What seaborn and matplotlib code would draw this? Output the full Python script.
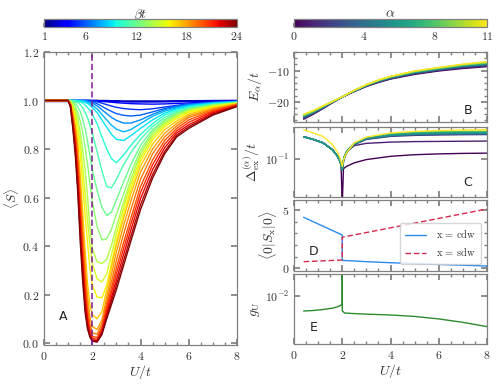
import matplotlib
matplotlib.use("Agg")
import matplotlib as mpl
import matplotlib.pyplot as plt
import numpy as np
import pandas as pd
import seaborn as sns
from matplotlib.ticker import MultipleLocator, LogLocator, NullFormatter, NullLocator, FixedLocator

# ---------------- data ----------------
u_s = [0.0, 1.0, 1.1, 1.2, 1.3, 1.4, 1.5, 1.6, 1.7, 1.8, 1.9, 2.0, 2.2, 2.4, 2.6,
       2.8, 3.0, 3.3, 3.6, 4.0, 4.5, 5.0, 5.5, 6.0, 7.0, 8.0]
beta_t = [1, 2, 3, 4, 5, 6, 7, 8, 9, 10, 11, 12, 13, 14, 15, 16, 17, 18, 19, 20, 21, 22, 23, 24]
s_beta = [
    [1.0, 1.0, 1.0, 1.0, 1.0, 1.0, 1.0, 1.0, 1.0, 1.0, 1.0, 1.0, 1.0, 1.0, 1.0, 1.0, 1.0, 1.0, 1.0, 1.0, 1.0, 1.0, 1.0, 1.0, 1.0, 1.0],
    [1.0, 1.0, 1.0, 1.0, 1.0, 1.0, 1.0, 1.0, 1.0, 1.0, 1.0, 1.0, 1.0, 1.0, 1.0, 0.999, 0.999, 0.998, 0.998, 0.998, 0.998, 0.998, 0.999, 0.999, 1.0, 1.0],
    [1.0, 1.0, 1.0, 1.0, 1.0, 1.0, 1.0, 1.0, 1.0, 1.0, 1.0, 1.0, 1.0, 0.999, 0.998, 0.997, 0.996, 0.995, 0.994, 0.994, 0.994, 0.995, 0.996, 0.997, 0.999, 1.0],
    [1.0, 1.0, 1.0, 1.0, 1.0, 1.0, 1.0, 1.0, 1.0, 1.0, 1.0, 1.0, 0.999, 0.997, 0.995, 0.993, 0.991, 0.989, 0.987, 0.986, 0.985, 0.986, 0.988, 0.99, 0.994, 0.997],
    [1.0, 1.0, 1.0, 1.0, 1.0, 1.0, 1.0, 1.0, 1.0, 1.0, 1.0, 0.999, 0.995, 0.989, 0.983, 0.977, 0.972, 0.967, 0.964, 0.962, 0.966, 0.973, 0.98, 0.986, 0.993, 0.997],
    [1.0, 1.0, 1.0, 1.0, 1.0, 1.0, 1.0, 1.0, 1.0, 0.999, 0.997, 0.995, 0.987, 0.976, 0.965, 0.955, 0.946, 0.939, 0.936, 0.94, 0.953, 0.967, 0.977, 0.985, 0.992, 0.996],
    [1.0, 1.0, 1.0, 1.0, 1.0, 1.0, 1.0, 1.0, 0.999, 0.997, 0.994, 0.99, 0.978, 0.962, 0.946, 0.93, 0.918, 0.907, 0.907, 0.92, 0.943, 0.962, 0.974, 0.983, 0.991, 0.996],
    [1.0, 1.0, 1.0, 1.0, 1.0, 1.0, 1.0, 0.999, 0.997, 0.993, 0.988, 0.982, 0.965, 0.943, 0.92, 0.898, 0.882, 0.871, 0.88, 0.905, 0.935, 0.956, 0.97, 0.98, 0.99, 0.995],
    [1.0, 1.0, 1.0, 1.0, 1.0, 1.0, 0.999, 0.997, 0.993, 0.988, 0.981, 0.972, 0.95, 0.92, 0.89, 0.86, 0.84, 0.835, 0.855, 0.885, 0.92, 0.948, 0.965, 0.977, 0.989, 0.994],
    [1.0, 1.0, 1.0, 1.0, 1.0, 0.998, 0.995, 0.99, 0.982, 0.972, 0.96, 0.945, 0.905, 0.85, 0.8, 0.76, 0.743, 0.775, 0.815, 0.86, 0.905, 0.94, 0.96, 0.973, 0.986, 0.993],
    [1.0, 1.0, 1.0, 1.0, 0.997, 0.992, 0.983, 0.97, 0.952, 0.93, 0.9, 0.865, 0.79, 0.71, 0.645, 0.64, 0.675, 0.735, 0.785, 0.84, 0.893, 0.93, 0.953, 0.968, 0.984, 0.991],
    [1.0, 1.0, 1.0, 0.996, 0.988, 0.975, 0.955, 0.925, 0.885, 0.835, 0.775, 0.715, 0.63, 0.56, 0.526, 0.54, 0.59, 0.665, 0.735, 0.815, 0.88, 0.921, 0.948, 0.966, 0.983, 0.991],
    [1.0, 1.0, 0.998, 0.99, 0.975, 0.95, 0.915, 0.87, 0.81, 0.74, 0.66, 0.585, 0.48, 0.425, 0.43, 0.47, 0.53, 0.615, 0.7, 0.795, 0.87, 0.914, 0.943, 0.963, 0.981, 0.99],
    [1.0, 1.0, 0.996, 0.983, 0.96, 0.925, 0.87, 0.8, 0.72, 0.61, 0.48, 0.39, 0.335, 0.328, 0.345, 0.405, 0.48, 0.58, 0.675, 0.78, 0.86, 0.907, 0.938, 0.96, 0.979, 0.99],
    [1.0, 1.0, 0.994, 0.975, 0.945, 0.9, 0.83, 0.73, 0.62, 0.51, 0.41, 0.33, 0.265, 0.252, 0.285, 0.365, 0.45, 0.56, 0.655, 0.765, 0.85, 0.9, 0.932, 0.956, 0.977, 0.989],
    [1.0, 1.0, 0.992, 0.965, 0.93, 0.87, 0.78, 0.66, 0.53, 0.42, 0.31, 0.24, 0.19, 0.186, 0.24, 0.33, 0.42, 0.535, 0.635, 0.75, 0.838, 0.892, 0.925, 0.951, 0.974, 0.988],
    [1.0, 1.0, 0.99, 0.95, 0.9, 0.825, 0.695, 0.545, 0.39, 0.25, 0.16, 0.118, 0.1, 0.13, 0.22, 0.315, 0.405, 0.515, 0.615, 0.73, 0.82, 0.88, 0.915, 0.944, 0.97, 0.987],
    [1.0, 1.0, 0.987, 0.94, 0.885, 0.795, 0.65, 0.49, 0.335, 0.195, 0.11, 0.068, 0.056, 0.095, 0.19, 0.285, 0.375, 0.485, 0.585, 0.705, 0.8, 0.865, 0.905, 0.937, 0.966, 0.985],
    [1.0, 1.0, 0.985, 0.93, 0.87, 0.765, 0.61, 0.445, 0.285, 0.155, 0.08, 0.042, 0.036, 0.08, 0.17, 0.255, 0.34, 0.45, 0.55, 0.675, 0.78, 0.85, 0.895, 0.93, 0.962, 0.984],
    [1.0, 1.0, 0.982, 0.92, 0.85, 0.735, 0.57, 0.4, 0.245, 0.125, 0.06, 0.028, 0.023, 0.065, 0.15, 0.23, 0.31, 0.415, 0.515, 0.645, 0.755, 0.835, 0.885, 0.92, 0.958, 0.982],
    [1.0, 1.0, 0.98, 0.91, 0.83, 0.705, 0.53, 0.36, 0.21, 0.105, 0.047, 0.02, 0.015, 0.055, 0.135, 0.21, 0.285, 0.39, 0.49, 0.62, 0.735, 0.82, 0.875, 0.91, 0.954, 0.98],
    [1.0, 1.0, 0.978, 0.9, 0.81, 0.675, 0.49, 0.325, 0.18, 0.088, 0.037, 0.014, 0.009, 0.046, 0.12, 0.19, 0.26, 0.365, 0.465, 0.595, 0.715, 0.805, 0.866, 0.9, 0.949, 0.978],
    [1.0, 1.0, 0.975, 0.89, 0.79, 0.645, 0.455, 0.29, 0.155, 0.072, 0.03, 0.011, 0.006, 0.04, 0.11, 0.175, 0.24, 0.34, 0.44, 0.57, 0.695, 0.79, 0.857, 0.892, 0.944, 0.977],
    [1.0, 1.0, 0.97, 0.88, 0.77, 0.62, 0.42, 0.26, 0.13, 0.06, 0.025, 0.008, 0.004, 0.035, 0.10, 0.16, 0.22, 0.32, 0.42, 0.55, 0.68, 0.78, 0.85, 0.885, 0.94, 0.975],
]
u_critical = 2.0

alpha_vals = [0, 1, 2, 3, 4, 5, 6, 7, 8, 9, 10, 11]
u_e = [0.4, 0.8, 1.2, 1.6, 2.0, 2.5, 3.0, 3.5, 4.0, 5.0, 6.0, 7.0, 8.0]
e_alpha = [
    [-25.6, -24.0, -22.2, -20.3, -18.5, -16.7, -15.1, -13.8, -12.7, -11.2, -10.1, -9.3, -8.7],
    [-25.4, -23.8, -22.1, -20.2, -18.5, -16.6, -15.0, -13.7, -12.6, -11.0, -9.9, -9.1, -8.5],
    [-25.2, -23.7, -22.0, -20.2, -18.5, -16.6, -14.9, -13.6, -12.5, -10.9, -9.8, -8.9, -8.3],
    [-25.0, -23.6, -21.9, -20.1, -18.5, -16.5, -14.9, -13.5, -12.4, -10.8, -9.7, -8.8, -8.1],
    [-24.9, -23.5, -21.8, -20.1, -18.5, -16.5, -14.8, -13.4, -12.3, -10.7, -9.6, -8.6, -8.0],
    [-24.8, -23.4, -21.7, -20.0, -18.4, -16.5, -14.8, -13.4, -12.2, -10.6, -9.5, -8.5, -7.9],
    [-24.6, -23.3, -21.7, -20.0, -18.4, -16.4, -14.7, -13.3, -12.1, -10.5, -9.4, -8.4, -7.7],
    [-24.5, -23.2, -21.6, -20.0, -18.4, -16.4, -14.7, -13.2, -12.1, -10.4, -9.3, -8.3, -7.6],
    [-24.4, -23.1, -21.5, -19.9, -18.4, -16.4, -14.6, -13.2, -12.0, -10.3, -9.2, -8.2, -7.5],
    [-24.3, -23.0, -21.4, -19.9, -18.4, -16.3, -14.6, -13.1, -11.9, -10.2, -9.1, -8.1, -7.4],
    [-24.1, -22.9, -21.4, -19.9, -18.4, -16.3, -14.5, -13.0, -11.9, -10.2, -9.0, -8.0, -7.2],
    [-24.0, -22.8, -21.3, -19.9, -18.4, -16.3, -14.5, -13.0, -11.8, -10.1, -9.0, -7.9, -7.1],
]

u_gap = [0.4, 0.8, 1.2, 1.6, 1.8, 1.9, 1.95, 2.0, 2.05, 2.1, 2.2, 2.5, 3.0, 4.0, 5.0, 6.0, 7.0, 8.0]
gap_alpha = [
    [0.208, 0.19, 0.17, 0.135, 0.11, 0.094, 0.083, 0.022, 0.072, 0.075, 0.079, 0.088, 0.098, 0.109, 0.115, 0.118, 0.12, 0.121],
    [0.208, 0.19, 0.17, 0.135, 0.11, 0.094, 0.083, 0.07, 0.095, 0.11, 0.13, 0.155, 0.167, 0.174, 0.177, 0.178, 0.179, 0.18],
    [0.208, 0.19, 0.17, 0.135, 0.11, 0.094, 0.083, 0.07, 0.09, 0.105, 0.125, 0.16, 0.19, 0.21, 0.217, 0.22, 0.222, 0.223],
    [0.208, 0.19, 0.17, 0.135, 0.11, 0.094, 0.083, 0.07, 0.092, 0.107, 0.127, 0.162, 0.193, 0.213, 0.221, 0.224, 0.226, 0.227],
    [0.208, 0.19, 0.17, 0.135, 0.11, 0.094, 0.083, 0.07, 0.093, 0.108, 0.128, 0.163, 0.195, 0.216, 0.224, 0.228, 0.23, 0.231],
    [0.208, 0.19, 0.17, 0.135, 0.11, 0.094, 0.083, 0.07, 0.094, 0.109, 0.129, 0.164, 0.196, 0.218, 0.227, 0.231, 0.233, 0.234],
    [0.208, 0.19, 0.17, 0.135, 0.11, 0.094, 0.083, 0.07, 0.095, 0.11, 0.13, 0.165, 0.197, 0.22, 0.23, 0.234, 0.236, 0.237],
    [0.208, 0.19, 0.17, 0.135, 0.11, 0.094, 0.083, 0.07, 0.095, 0.11, 0.13, 0.166, 0.198, 0.222, 0.232, 0.237, 0.239, 0.24],
    [0.208, 0.19, 0.17, 0.135, 0.11, 0.094, 0.083, 0.07, 0.096, 0.111, 0.131, 0.167, 0.2, 0.224, 0.235, 0.24, 0.243, 0.244],
    [0.208, 0.19, 0.17, 0.135, 0.11, 0.094, 0.083, 0.07, 0.096, 0.111, 0.131, 0.168, 0.2, 0.226, 0.237, 0.243, 0.246, 0.247],
    [0.208, 0.19, 0.17, 0.135, 0.11, 0.094, 0.083, 0.07, 0.097, 0.112, 0.132, 0.168, 0.201, 0.228, 0.24, 0.246, 0.249, 0.25],
    [0.26, 0.235, 0.21, 0.16, 0.125, 0.105, 0.092, 0.078, 0.095, 0.108, 0.125, 0.17, 0.205, 0.235, 0.248, 0.255, 0.259, 0.262],
]
# draw order for the gap panel (teal curve ends up on top on the left branch)
gap_order = [0, 1, 10, 9, 8, 7, 2, 3, 4, 5, 6, 11]

u_cdw = [0.4, 2.0, 2.0, 3.0, 4.0, 5.0, 6.0, 7.0, 8.0]
s_cdw = [4.37, 2.85, 0.68, 0.57, 0.48, 0.40, 0.33, 0.26, 0.20]
u_sdw = [0.4, 2.0, 2.0, 8.0]
s_sdw = [0.57, 0.71, 2.66, 5.08]

u_g = [0.4, 0.8, 1.2, 1.6, 1.8, 1.95, 2.0, 2.0, 2.0, 2.05, 2.1, 2.5, 3.0, 4.0, 5.0, 6.0, 7.0, 8.0]
g_u = [0.0061, 0.0062, 0.0064, 0.0067, 0.0070, 0.0074, 0.0076, 0.1, 0.0062, 0.0059, 0.0057,
       0.0056, 0.0055, 0.00535, 0.0051, 0.0047, 0.0042, 0.00365]

# ---------------- style ----------------
sns.set_theme(style="ticks")
SPINE = "#808080"
TXT = "#333333"
plt.rcParams.update({
    "font.family": "serif",
    "font.serif": ["cmr10"],
    "mathtext.fontset": "cm",
    "axes.formatter.use_mathtext": True,
    "axes.edgecolor": SPINE,
    "axes.linewidth": 0.9,
    "xtick.color": SPINE, "ytick.color": SPINE,
    "xtick.labelcolor": TXT, "ytick.labelcolor": TXT,
    "xtick.direction": "in", "ytick.direction": "in",
    "xtick.top": True, "ytick.right": True,
    "xtick.major.size": 4, "ytick.major.size": 4,
    "xtick.minor.size": 2, "ytick.minor.size": 2,
    "xtick.labelsize": 8.5, "ytick.labelsize": 8.5,
    "axes.labelsize": 10, "axes.labelcolor": TXT,
    "axes.facecolor": "white", "figure.facecolor": "white",
})

W, H = 499.0, 385.0
def rect(l, t, r, b):
    return [l / W, 1 - b / H, (r - l) / W, (b - t) / H]

fig = plt.figure(figsize=(4.99, 3.85), dpi=100)
axA = fig.add_axes(rect(44, 52, 237, 345))
axB = fig.add_axes(rect(294, 52, 487, 122))
axC = fig.add_axes(rect(294, 127, 487, 197))
axD = fig.add_axes(rect(294, 200, 487, 271))
axE = fig.add_axes(rect(294, 274, 487, 344))
caxL = fig.add_axes(rect(44, 19, 237, 27))
caxR = fig.add_axes(rect(294, 19, 487, 27))

JET = mpl.colormaps["jet"]
VIR = mpl.colormaps["viridis"]

# ---------------- panel A ----------------
df_s = pd.DataFrame([(b, u, v) for b, row in zip(beta_t, s_beta) for u, v in zip(u_s, row)],
                    columns=["beta", "U", "S"])
sns.lineplot(data=df_s, x="U", y="S", hue="beta", palette=JET, hue_norm=(1, 24),
             legend=False, estimator=None, sort=False, lw=1.0, ax=axA)
axA.axvline(u_critical, color="#7d1a8b", ls=(0, (4, 2)), lw=1.1)
axA.set_xlim(0, 8)
axA.set_ylim(-0.008, 1.2)
axA.xaxis.set_major_locator(MultipleLocator(2))
axA.xaxis.set_minor_locator(MultipleLocator(0.5))
axA.yaxis.set_major_locator(MultipleLocator(0.2))
axA.set_xlabel(r"$U/t$", labelpad=1)
axA.set_ylabel(r"$\langle S\rangle$", fontsize=9.5)
axA.yaxis.set_label_coords(-0.118, 0.5)
axA.text(0.79, 0.11, "A", family="DejaVu Sans", fontsize=9, color="#222222", ha="center", va="center")

# ---------------- panel B ----------------
df_e = pd.DataFrame([(a, u, v) for a, row in zip(alpha_vals, e_alpha) for u, v in zip(u_e, row)],
                    columns=["alpha", "U", "E"])
sns.lineplot(data=df_e, x="U", y="E", hue="alpha", palette=VIR, hue_norm=(0, 11),
             legend=False, estimator=None, sort=False, lw=1.0, ax=axB)
axB.set_ylim(-26.5, -4)
axB.yaxis.set_major_locator(FixedLocator([-20, -10]))
axB.yaxis.set_minor_locator(MultipleLocator(2))
axB.set_ylabel(r"$E_\alpha/t$", labelpad=2)
axB.text(0.90, 0.16, "B", transform=axB.transAxes, family="DejaVu Sans", fontsize=9,
         color="#222222", ha="center", va="center")

# ---------------- panel C ----------------
df_g = pd.DataFrame([(a, u, v) for a, row in zip(alpha_vals, gap_alpha) for u, v in zip(u_gap, row)],
                    columns=["alpha", "U", "gap"])
sns.lineplot(data=df_g, x="U", y="gap", hue="alpha", hue_order=gap_order,
             palette={a: VIR(a / 11) for a in alpha_vals},
             legend=False, estimator=None, sort=False, lw=1.0, ax=axC)
axC.set_yscale("log")
axC.set_ylim(0.0286, 0.286)
axC.yaxis.set_major_locator(LogLocator(base=10))
axC.yaxis.set_minor_locator(NullLocator())
axC.set_ylabel(r"$\Delta^{(\alpha)}_{\rm ex}/t$", labelpad=2)
axC.text(0.90, 0.20, "C", transform=axC.transAxes, family="DejaVu Sans", fontsize=9,
         color="#222222", ha="center", va="center")

# ---------------- panel D ----------------
sns.lineplot(x=u_cdw, y=s_cdw, color="#2b8cf0", lw=1.0, estimator=None, sort=False,
             ax=axD, label=r"$\rm x\,=\,cdw$")
sns.lineplot(x=u_sdw, y=s_sdw, color="#d6284b", lw=1.0, estimator=None, sort=False,
             ax=axD, label=r"$\rm x\,=\,sdw$")
axD.lines[-1].set_dashes((4, 2))
axD.set_ylim(-0.23, 5.85)
axD.yaxis.set_major_locator(FixedLocator([0, 5]))
axD.yaxis.set_minor_locator(MultipleLocator(1))
axD.set_ylabel(r"$\langle 0|S_{\rm x}|0\rangle$", labelpad=2)
leg = axD.legend(loc="center right", bbox_to_anchor=(0.995, 0.39), fontsize=7.5,
                 handlelength=2.0, handletextpad=0.9, frameon=True, borderpad=0.5,
                 labelspacing=0.6)
leg.get_frame().set_edgecolor("#cccccc")
for t in leg.get_texts():
    t.set_color(TXT)
axD.text(0.10, 0.27, "D", transform=axD.transAxes, family="DejaVu Sans", fontsize=9,
         color="#222222", ha="center", va="center")

# ---------------- panel E ----------------
sns.lineplot(x=u_g, y=g_u, color="#2e8b2e", lw=1.0, estimator=None, sort=False, ax=axE)
axE.set_yscale("log")
axE.set_ylim(0.00206, 0.0206)
axE.yaxis.set_major_locator(LogLocator(base=10))
axE.yaxis.set_minor_locator(NullLocator())
axE.set_ylabel(r"$g_{\rm U}$", labelpad=2)
axE.set_xlabel(r"$U/t$", labelpad=1)
axE.text(0.104, 0.24, "E", transform=axE.transAxes, family="DejaVu Sans", fontsize=9,
         color="#222222", ha="center", va="center")

for ax in (axB, axC, axD, axE):
    ax.set_xlim(0, 8)
    ax.xaxis.set_major_locator(MultipleLocator(2))
    ax.xaxis.set_minor_locator(MultipleLocator(0.5))
for ax in (axB, axC, axD):
    ax.tick_params(labelbottom=False)
    ax.set_xlabel("")

# ---------------- colorbars ----------------
def make_cbar(cax, cmap, vmin, vmax, ticks, label):
    sm = mpl.cm.ScalarMappable(norm=mpl.colors.Normalize(vmin, vmax), cmap=cmap)
    cb = fig.colorbar(sm, cax=cax, orientation="horizontal")
    cb.set_ticks(ticks)
    cb.outline.set_edgecolor(SPINE)
    cb.outline.set_linewidth(0.9)
    cax.tick_params(axis="x", direction="in", length=3, color=SPINE, labelsize=8.5,
                    labelcolor=TXT, pad=2, top=False, bottom=True)
    cax.set_xlabel(label, fontsize=10, labelpad=1, color=TXT)
    cax.xaxis.set_label_position("top")
    return cb

make_cbar(caxL, JET, 1, 24, [1, 6, 12, 18, 24], r"$\beta t$")
make_cbar(caxR, VIR, 0, 11, [0, 4, 8, 11], r"$\alpha$")

fig.savefig("out.png", dpi=100)
